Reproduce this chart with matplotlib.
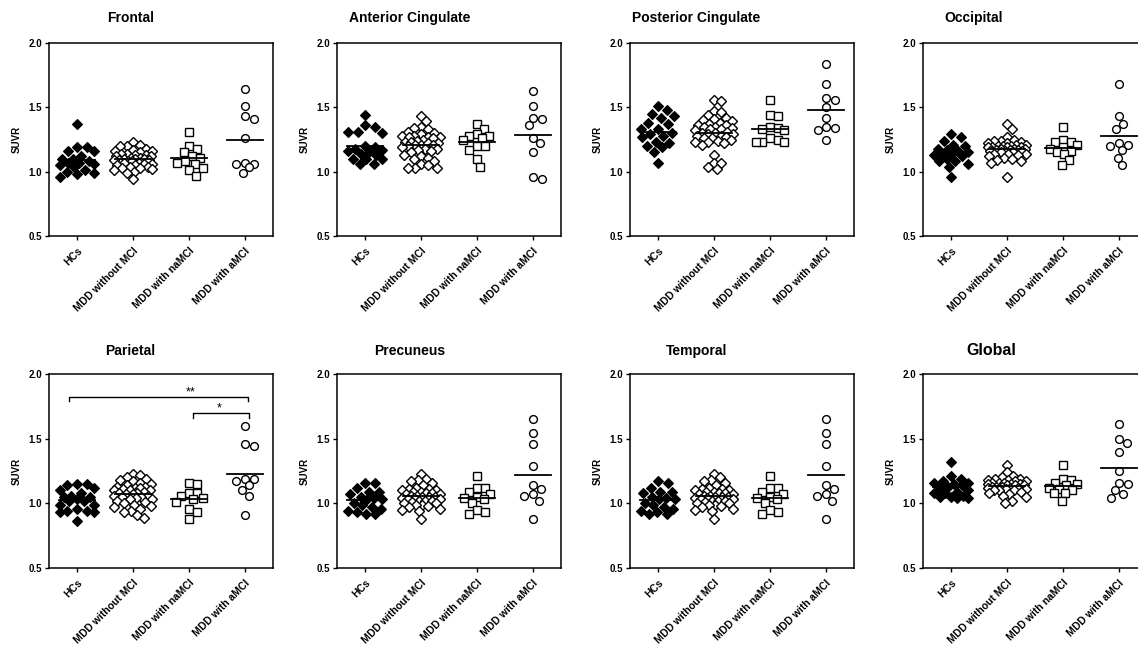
import numpy as np
import matplotlib
matplotlib.use("Agg")
import matplotlib.pyplot as plt

plt.rcParams['font.family'] = ['Liberation Sans', 'DejaVu Sans']

groups = ["HCs", "MDD without MCI", "MDD with naMCI", "MDD with aMCI"]
regions = ["Frontal", "Anterior Cingulate", "Posterior Cingulate", "Occipital",
           "Parietal", "Precuneus", "Temporal", "Global"]

# ---- data (SUVR) ----
frontal_hc = [1.37, 1.19, 1.19, 1.16, 1.16, 1.12, 1.10, 1.10, 1.08, 1.07, 1.07, 1.06, 1.05, 1.04, 1.01, 1.00, 0.99, 0.98, 0.96]
frontal_nomci = [1.23, 1.21, 1.20, 1.20, 1.18, 1.17, 1.16, 1.16, 1.15, 1.14, 1.14, 1.13, 1.13, 1.12, 1.12, 1.11, 1.11, 1.10, 1.10, 1.10,
                 1.09, 1.09, 1.09, 1.08, 1.08, 1.07, 1.07, 1.06, 1.06, 1.05, 1.05, 1.04, 1.04, 1.03, 1.03, 1.02, 1.01, 1.00, 0.99, 0.94]
frontal_na = [1.31, 1.20, 1.18, 1.15, 1.12, 1.11, 1.08, 1.07, 1.06, 1.03, 1.01, 0.97]
frontal_a = [1.64, 1.51, 1.43, 1.41, 1.26, 1.07, 1.06, 1.06, 1.04, 0.99]

acing_hc = [1.44, 1.36, 1.35, 1.31, 1.31, 1.30, 1.20, 1.19, 1.18, 1.17, 1.16, 1.15, 1.14, 1.13, 1.10, 1.10, 1.10, 1.06, 1.06]
acing_nomci = [1.43, 1.39, 1.35, 1.34, 1.33, 1.31, 1.30, 1.29, 1.28, 1.27, 1.28, 1.27, 1.27, 1.26, 1.25, 1.24, 1.23, 1.23, 1.22, 1.21,
               1.22, 1.21, 1.21, 1.20, 1.19, 1.18, 1.18, 1.17, 1.16, 1.15, 1.13, 1.12, 1.11, 1.10, 1.08, 1.06, 1.05, 1.03, 1.03, 1.03]
acing_na = [1.37, 1.33, 1.29, 1.28, 1.28, 1.26, 1.25, 1.20, 1.20, 1.17, 1.10, 1.04]
acing_a = [1.63, 1.51, 1.42, 1.41, 1.36, 1.26, 1.22, 1.15, 0.96, 0.94]

pcing_hc = [1.51, 1.48, 1.45, 1.43, 1.42, 1.38, 1.37, 1.33, 1.33, 1.30, 1.29, 1.28, 1.27, 1.23, 1.22, 1.20, 1.19, 1.15, 1.07]
pcing_nomci = [1.56, 1.55, 1.47, 1.46, 1.44, 1.42, 1.41, 1.40, 1.39, 1.38, 1.37, 1.36, 1.36, 1.35, 1.35, 1.34, 1.33, 1.33, 1.32, 1.31,
               1.30, 1.30, 1.29, 1.29, 1.28, 1.28, 1.27, 1.26, 1.26, 1.25, 1.24, 1.23, 1.23, 1.22, 1.21, 1.13, 1.07, 1.07, 1.04, 1.02]
pcing_na = [1.56, 1.44, 1.43, 1.35, 1.34, 1.33, 1.32, 1.26, 1.25, 1.23, 1.23, 1.23]
pcing_a = [1.84, 1.68, 1.57, 1.56, 1.50, 1.42, 1.35, 1.34, 1.32, 1.25]

occ_hc = [1.29, 1.27, 1.24, 1.21, 1.20, 1.18, 1.17, 1.16, 1.15, 1.14, 1.14, 1.13, 1.12, 1.10, 1.08, 1.08, 1.06, 1.04, 0.96]
occ_nomci = [1.37, 1.33, 1.27, 1.25, 1.24, 1.24, 1.23, 1.22, 1.22, 1.21, 1.21, 1.20, 1.20, 1.20, 1.19, 1.19, 1.19, 1.19, 1.18, 1.18,
             1.18, 1.17, 1.17, 1.17, 1.16, 1.16, 1.16, 1.15, 1.15, 1.14, 1.14, 1.14, 1.13, 1.12, 1.11, 1.10, 1.09, 1.08, 1.07, 0.96]
occ_na = [1.35, 1.25, 1.23, 1.23, 1.21, 1.19, 1.18, 1.16, 1.15, 1.14, 1.09, 1.05]
occ_a = [1.68, 1.43, 1.37, 1.33, 1.22, 1.21, 1.20, 1.17, 1.11, 1.05]

par_hc = [1.15, 1.15, 1.14, 1.12, 1.10, 1.08, 1.06, 1.05, 1.05, 1.03, 1.02, 1.02, 0.99, 0.99, 0.96, 0.94, 0.94, 0.93, 0.93, 0.86]
par_nomci = [1.23, 1.22, 1.20, 1.19, 1.18, 1.17, 1.16, 1.15, 1.14, 1.13, 1.13, 1.12, 1.12, 1.11, 1.10, 1.10, 1.10, 1.09, 1.08, 1.08,
             1.07, 1.07, 1.06, 1.06, 1.05, 1.05, 1.04, 1.03, 1.03, 1.02, 1.01, 1.00, 0.99, 0.98, 0.97, 0.96, 0.94, 0.93, 0.91, 0.89]
par_na = [1.16, 1.15, 1.08, 1.08, 1.06, 1.04, 1.03, 1.01, 0.96, 0.93, 0.88]
par_a = [1.60, 1.46, 1.44, 1.19, 1.19, 1.17, 1.14, 1.10, 1.06, 0.91]

prec_hc = [1.16, 1.16, 1.12, 1.09, 1.09, 1.07, 1.05, 1.04, 1.03, 1.03, 1.00, 0.99, 0.97, 0.96, 0.94, 0.93, 0.92, 0.92]
prec_nomci = [1.23, 1.19, 1.18, 1.17, 1.16, 1.14, 1.12, 1.11, 1.11, 1.10, 1.10, 1.09, 1.09, 1.08, 1.08, 1.07, 1.07, 1.06, 1.06, 1.05,
              1.05, 1.05, 1.04, 1.04, 1.03, 1.03, 1.02, 1.02, 1.02, 1.01, 1.00, 1.00, 0.99, 0.99, 0.98, 0.97, 0.96, 0.95, 0.94, 0.88]
prec_na = [1.21, 1.12, 1.12, 1.09, 1.07, 1.05, 1.04, 1.03, 1.00, 0.95, 0.93, 0.92]
prec_a = [1.65, 1.54, 1.46, 1.29, 1.14, 1.11, 1.07, 1.06, 1.02, 0.88]

temp_hc = [1.17, 1.16, 1.12, 1.09, 1.09, 1.08, 1.05, 1.04, 1.03, 1.03, 1.00, 0.99, 0.97, 0.96, 0.94, 0.93, 0.92, 0.92]
temp_nomci = [1.23, 1.20, 1.18, 1.17, 1.16, 1.14, 1.12, 1.11, 1.11, 1.10, 1.10, 1.09, 1.09, 1.08, 1.08, 1.07, 1.07, 1.06, 1.06, 1.05,
              1.05, 1.05, 1.04, 1.04, 1.03, 1.03, 1.02, 1.02, 1.02, 1.01, 1.00, 1.00, 0.99, 0.99, 0.98, 0.97, 0.96, 0.95, 0.94, 0.88]
temp_na = [1.21, 1.12, 1.12, 1.09, 1.07, 1.05, 1.04, 1.03, 1.00, 0.95, 0.93, 0.92]
temp_a = [1.65, 1.54, 1.46, 1.29, 1.14, 1.11, 1.07, 1.06, 1.02, 0.88]

glob_hc = [1.32, 1.21, 1.19, 1.17, 1.16, 1.16, 1.15, 1.14, 1.13, 1.12, 1.10, 1.09, 1.08, 1.08, 1.06, 1.05, 1.05, 1.04, 1.04]
glob_nomci = [1.30, 1.24, 1.21, 1.20, 1.19, 1.19, 1.18, 1.18, 1.17, 1.17, 1.16, 1.16, 1.16, 1.15, 1.15, 1.15, 1.14, 1.14, 1.14, 1.13,
              1.13, 1.13, 1.12, 1.12, 1.12, 1.11, 1.11, 1.10, 1.10, 1.10, 1.09, 1.08, 1.07, 1.06, 1.05, 1.02, 1.00]
glob_na = [1.30, 1.19, 1.18, 1.16, 1.15, 1.14, 1.12, 1.11, 1.10, 1.08, 1.08, 1.02]
glob_a = [1.61, 1.50, 1.47, 1.40, 1.25, 1.16, 1.15, 1.10, 1.07, 1.04]

panel_data = [
    [frontal_hc, frontal_nomci, frontal_na, frontal_a],
    [acing_hc, acing_nomci, acing_na, acing_a],
    [pcing_hc, pcing_nomci, pcing_na, pcing_a],
    [occ_hc, occ_nomci, occ_na, occ_a],
    [par_hc, par_nomci, par_na, par_a],
    [prec_hc, prec_nomci, prec_na, prec_a],
    [temp_hc, temp_nomci, temp_na, temp_a],
    [glob_hc, glob_nomci, glob_na, glob_a],
]

yticks = [0.5, 1.0, 1.5, 2.0]

# ---- layout (pixels) ----
W, H = 1138, 646
AX_W = 224
lefts = [49, 337, 630, 923]
rows = [(43, 236), (374, 568)]
title_x = [[131, 410, 696, 974], [130, 410, 697, 991]]
title_y = [18, 351]

YPX = (236 - 43) / 1.5
XPX = AX_W / 4.0

# swarm spacing per group: (min distance px, max offset px)
swarm_par = [(9.5, 17.0), (7.0, 19.0), (8.0, 14.0), (8.5, 13.0)]


def swarm(vals, d, maxoff, step=1.0):
    vals = np.asarray(vals, float)
    ypx = vals * YPX
    order = np.argsort(-vals)
    cands = [0.0]
    k = step
    while k <= maxoff:
        cands += [k, -k]
        k += step
    placed = []
    offs = np.zeros(len(vals))
    for i in order:
        y = ypx[i]
        chosen = None
        best, bestd = 0.0, -1
        for c in cands:
            if placed:
                pa = np.array(placed)
                md = np.min(np.hypot(pa[:, 0] - c, pa[:, 1] - y))
            else:
                md = np.inf
            if md >= d:
                chosen = c
                break
            if md > bestd + 0.3:
                bestd, best = md, c
        if chosen is None:
            chosen = best
        placed.append((chosen, y))
        offs[i] = chosen
    return offs / XPX


styles = [
    dict(marker='D', ms=4.6, mfc='black', mec='black', mew=0.8),
    dict(marker='D', ms=5.0, mfc='white', mec='black', mew=1.0),
    dict(marker='s', ms=5.2, mfc='white', mec='black', mew=1.0),
    dict(marker='o', ms=5.6, mfc='white', mec='black', mew=1.0),
]

fig = plt.figure(figsize=(W / 100, H / 100), dpi=100)

for p, data in enumerate(panel_data):
    r, c = divmod(p, 4)
    top, bot = rows[r]
    ax = fig.add_axes([lefts[c] / W, 1 - bot / H, AX_W / W, (bot - top) / H])
    for g, vals in enumerate(data):
        d, mo = swarm_par[g]
        offs = swarm(vals, d, mo)
        ax.plot(g + offs, vals, linestyle='none', zorder=3, **styles[g])
        m = np.mean(vals)
        ax.plot([g - 0.33, g + 0.33], [m, m], color='black', lw=1.3, zorder=4)
    ax.set_xlim(-0.5, 3.5)
    ax.set_ylim(0.5, 2.0)
    ax.set_yticks(yticks)
    ax.set_yticklabels([f"{t:.1f}" for t in yticks], fontsize=7, fontweight='bold')
    ax.set_xticks(range(4))
    ax.set_xticklabels(groups, rotation=45, ha='right', rotation_mode='anchor',
                       fontsize=7.5, fontweight='bold')
    ax.tick_params(direction='out', length=3, width=1, pad=2)
    ax.tick_params(axis='x', pad=4)
    for s in ax.spines.values():
        s.set_linewidth(1.1)
    ax.set_ylabel('SUVR', fontsize=7, fontweight='bold', labelpad=5)
    fs = 11.5 if regions[p] == 'Global' else 10
    fig.text(title_x[r][c] / W, 1 - title_y[r] / H, regions[p], ha='center', va='center',
             fontsize=fs, fontweight='bold')

    if regions[p] == 'Parietal':
        ax.plot([-0.15, -0.15, 3.05, 3.05], [1.79, 1.82, 1.82, 1.79], color='black', lw=1.0)
        ax.text(2.02, 1.86, '**', ha='center', va='center', fontsize=9)
        ax.plot([2.07, 2.07, 3.07, 3.07], [1.66, 1.695, 1.695, 1.66], color='black', lw=1.0)
        ax.text(2.54, 1.735, '*', ha='center', va='center', fontsize=9)

fig.savefig('out.png', dpi=100)
